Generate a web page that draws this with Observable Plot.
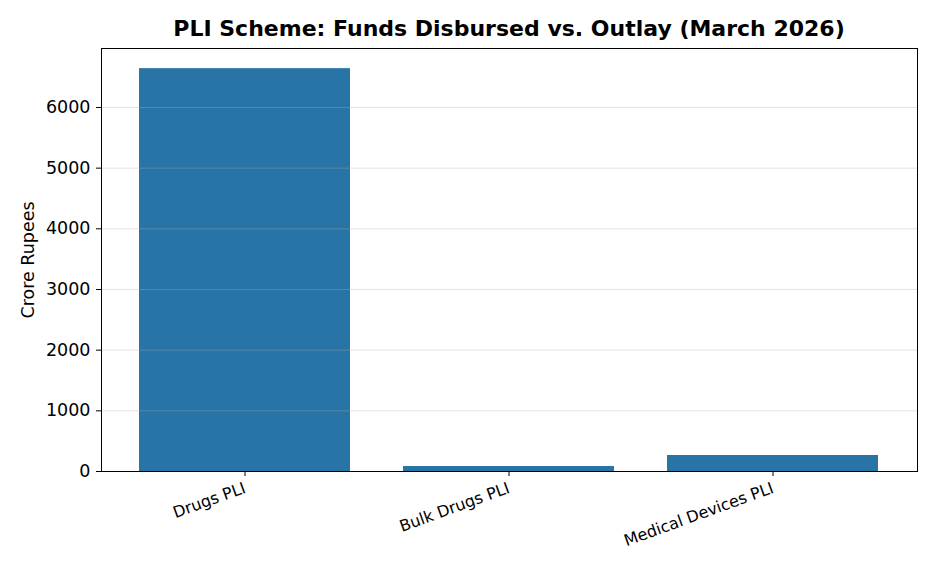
<!DOCTYPE html>
<html>
<head>
<meta charset="utf-8">
<script src="https://cdn.jsdelivr.net/npm/d3@7"></script>
<script src="https://cdn.jsdelivr.net/npm/@observablehq/plot@0.6"></script>
<style>
  html, body { margin: 0; padding: 0; background: #fff; }
  #wrap { width: 936px; font-family: "DejaVu Sans", sans-serif; }
  #title { box-sizing: border-box; height: 40px; padding: 18px 19px 0 101px; text-align: center; font-weight: bold; font-size: 22px; line-height: 22px; color: #000; white-space: nowrap; }
</style>
</head>
<body>
<div id="wrap">
  <div id="title">PLI Scheme: Funds Disbursed vs. Outlay (March 2026)</div>
  <div id="chart"></div>
</div>
<script>
const schemes = ["Drugs PLI", "Bulk Drugs PLI", "Medical Devices PLI"];
const disbursed = [6640, 82, 264];
const yTicks = [0, 1000, 2000, 3000, 4000, 5000, 6000];
const yLabel = "Crore Rupees";

const data = schemes.map((s, i) => ({scheme: s, value: disbursed[i]}));
const yMax = d3.max(disbursed) * 1.05;

const chart = Plot.plot({
  width: 936,
  height: 532,
  marginTop: 8,
  marginLeft: 101,
  marginRight: 19,
  marginBottom: 101,
  style: {fontFamily: "DejaVu Sans, sans-serif", fontSize: "17.5px", color: "#000", background: "#fff"},
  x: {domain: schemes, paddingInner: 0.2, paddingOuter: 0.14, label: null},
  y: {domain: [0, yMax], label: null},
  marks: [
    Plot.barY(data, {x: "scheme", y: "value", fill: "#2874a6"}),
    Plot.gridY(yTicks, {stroke: "#b0b0b0", strokeOpacity: 0.35, strokeWidth: 1}),
    Plot.axisY(yTicks, {tickSize: 5, tickPadding: 6, tickFormat: d => String(d), label: null, fontSize: 17.5}),
    Plot.axisX({tickSize: 5, tickPadding: 11, tickRotate: -20, label: null, fontSize: 16}),
    Plot.text([yLabel], {frameAnchor: "left", textAnchor: "middle", dx: -73, rotate: -90, fontSize: 17.5, text: d => d}),
    Plot.frame({stroke: "#000", strokeWidth: 1})
  ]
});
document.getElementById("chart").appendChild(chart);
</script>
</body>
</html>
